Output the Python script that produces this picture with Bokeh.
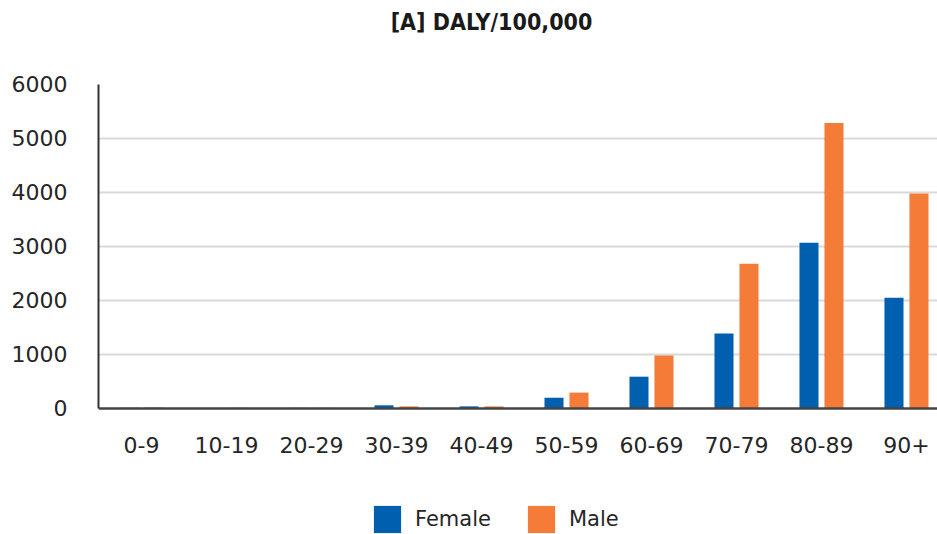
from bokeh.plotting import figure
from bokeh.models import ColumnDataSource, Range1d, FixedTicker, Legend, LegendItem, Label
from bokeh.transform import dodge
from bokeh.embed import file_html
from bokeh.resources import INLINE

categories = ["0-9", "10-19", "20-29", "30-39", "40-49", "50-59", "60-69", "70-79", "80-89", "90+"]
female = [5, 2, 3, 50, 30, 190, 580, 1380, 3060, 2040]
male = [10, 3, 4, 30, 30, 285, 970, 2670, 5280, 3970]
y_ticks = [0, 1000, 2000, 3000, 4000, 5000, 6000]
title_text = "[A] DALY/100,000"

FEMALE_C = "#0060B0"
MALE_C = "#F47B38"
FONT = "DejaVu Sans"
TXT_C = "#262626"

W, H = 937, 534
LEFT = 98
ZERO_PX = 407.5          # pixel row of value 0
PX_PER_UNIT = 324 / 6000  # 6000 spans 324 px

idx = list(range(len(categories)))
src = ColumnDataSource(dict(idx=idx, female=female, male=male))

y_start = -(H - ZERO_PX) / PX_PER_UNIT
y_end = ZERO_PX / PX_PER_UNIT

p = figure(width=W, height=H, output_backend="svg", toolbar_location=None,
           x_range=Range1d(-0.506, 9.365), y_range=Range1d(y_start, y_end),
           min_border_left=LEFT, min_border_right=0, min_border_top=0, min_border_bottom=0)
p.outline_line_color = None
p.background_fill_color = "white"
p.border_fill_color = "white"

rf = p.vbar(x=dodge("idx", -0.147, range=p.x_range), top="female", width=0.224, bottom=0,
            source=src, fill_color=FEMALE_C, line_color=None)
rm = p.vbar(x=dodge("idx", 0.147, range=p.x_range), top="male", width=0.224, bottom=0,
            source=src, fill_color=MALE_C, line_color=None)

# x axis sits on the zero line
p.xaxis.fixed_location = 0
p.xaxis.ticker = FixedTicker(ticks=idx)
p.xaxis.major_label_overrides = {i: c for i, c in zip(idx, categories)}
p.xaxis.major_tick_line_color = None
p.xaxis.minor_tick_line_color = None
p.xaxis.major_tick_out = 0
p.xaxis.axis_line_color = "#444444"
p.xaxis.axis_line_width = 2.5
p.xaxis.major_label_standoff = 29
p.xaxis.major_label_text_font = FONT
p.xaxis.major_label_text_font_size = "22px"
p.xaxis.major_label_text_color = TXT_C

p.yaxis.bounds = (0, 6000)
p.yaxis.ticker = FixedTicker(ticks=y_ticks)
p.yaxis.major_tick_line_color = None
p.yaxis.minor_tick_line_color = None
p.yaxis.major_tick_out = 0
p.yaxis.axis_line_color = "#333333"
p.yaxis.axis_line_width = 2
p.yaxis.major_label_standoff = 31
p.yaxis.major_label_text_font = FONT
p.yaxis.major_label_text_font_size = "22px"
p.yaxis.major_label_text_color = TXT_C

p.xgrid.grid_line_color = None
p.ygrid.ticker = FixedTicker(ticks=y_ticks[1:-1])
p.ygrid.grid_line_color = "#d9d9d9"
p.ygrid.grid_line_width = 2

# title, placed in screen units from the frame's bottom-left corner
p.add_layout(Label(x=491 - LEFT, y=H - 21, x_units="screen", y_units="screen",
                   text=title_text, text_align="center", text_baseline="middle",
                   text_font="DejaVu Sans Condensed", text_font_size="23px",
                   text_font_style="bold", text_color="#1a1a1a"))

legend = Legend(items=[LegendItem(label="Female", renderers=[rf]),
                       LegendItem(label="Male", renderers=[rm])],
                location=(370 - LEFT, -1.5), orientation="horizontal",
                glyph_width=34, glyph_height=34, label_standoff=11, spacing=33,
                padding=0, margin=0, border_line_color=None, background_fill_alpha=0,
                label_text_font=FONT, label_text_font_size="21px", label_text_color=TXT_C,
                label_height=34)
p.add_layout(legend, "center")

open("out.html", "w").write(file_html(p, INLINE))
